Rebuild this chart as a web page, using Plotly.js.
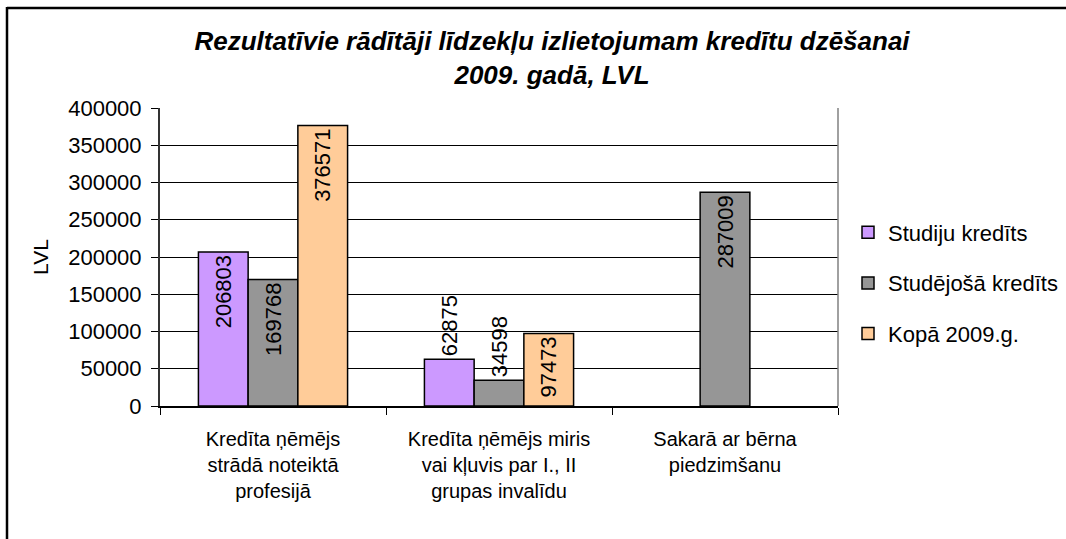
<!DOCTYPE html>
<html>
<head>
<meta charset="utf-8">
<script src="https://cdn.plot.ly/plotly-3.0.1.min.js"></script>
<style>
  html, body { margin: 0; padding: 0; background: #fff; }
  #chart { width: 1066px; height: 539px; }
</style>
</head>
<body>
<div id="chart"></div>
<script>
// ---- data ----
const categories = [
  "Kredīta ņēmējs<br>strādā noteiktā<br>profesijā",
  "Kredīta ņēmējs miris<br>vai kļuvis par I., II<br>grupas invalīdu",
  "Sakarā ar bērna<br>piedzimšanu"
];
const seriesNames = ["Studiju kredīts", "Studējošā kredīts", "Kopā 2009.g."];
const studiju = [206803, 62875, null];
const studejosa = [169768, 34598, 287009];
const kopa = [376571, 97473, null];
const yTicks = [0, 50000, 100000, 150000, 200000, 250000, 300000, 350000, 400000];

// ---- layout geometry (pixels) ----
const W = 1066, H = 539;
const plotL = 160, plotR = 838, plotT = 108, plotB = 406;
const pw = plotR - plotL, ph = plotB - plotT;
const px2x = p => (p - plotL) / pw;
const py2y = p => (plotB - p) / ph;

const FONT = "Liberation Sans, Arial, sans-serif";
const colors = ["#CC99FF", "#969696", "#FFCC99"];
const values = [studiju, studejosa, kopa];
const positions = [
  ["inside", "outside", "none"],
  ["inside", "outside", "inside"],
  ["inside", "inside", "none"]
];

const traces = values.map((vals, i) => ({
  type: "bar",
  name: seriesNames[i],
  x: categories,
  y: vals,
  text: vals.map(v => v == null ? "" : String(v)),
  textposition: positions[i],
  insidetextanchor: "end",
  textangle: -90,
  constraintext: "none",
  cliponaxis: false,
  textfont: { family: FONT, size: 22, color: "#000" },
  marker: { color: colors[i], line: { color: "#000", width: 1.5 } },
  legendgroup: "g" + i,
  hoverinfo: "none"
}));

const layout = {
  width: W, height: H,
  margin: { l: plotL, r: W - plotR, t: plotT, b: H - plotB, pad: 0, autoexpand: false },
  paper_bgcolor: "#fff",
  plot_bgcolor: "#fff",
  barmode: "group",
  bargap: 0.34,
  bargroupgap: 0,
  showlegend: true,
  title: {
    text: "Rezultatīvie rādītāji līdzekļu izlietojumam kredītu dzēšanai<br>2009. gadā, LVL",
    font: { family: FONT, size: 26, weight: "bold", style: "italic", color: "#000" },
    x: 552 / W, xref: "container", xanchor: "center",
    y: 1 - 50 / H, yref: "container", yanchor: "top"
  },
  xaxis: {
    type: "category",
    tickson: "boundaries",
    ticks: "outside", ticklen: 7, tickwidth: 1, tickcolor: "#000",
    ticklabelstandoff: 14,
    showline: true, linecolor: "#000", linewidth: 1.5,
    showgrid: false, zeroline: false,
    tickfont: { family: FONT, size: 20, color: "#000" },
    automargin: false
  },
  yaxis: {
    range: [0, 400000],
    tickvals: yTicks,
    ticktext: yTicks.map(String),
    ticks: "outside", ticklen: 7, tickwidth: 1, tickcolor: "#000",
    ticklabelstandoff: 5,
    showline: true, linecolor: "#333", linewidth: 2,
    showgrid: true, gridcolor: "#000", gridwidth: 1,
    zeroline: false,
    tickfont: { family: FONT, size: 22, color: "#000" },
    title: { text: "LVL", font: { family: FONT, size: 21, color: "#000" }, standoff: 14 },
    automargin: false
  },
  legend: {
    x: px2x(848), xanchor: "left",
    y: py2y(283), yanchor: "middle",
    font: { family: FONT, size: 22, color: "#000" },
    tracegroupgap: 19,
    bgcolor: "rgba(0,0,0,0)",
    itemclick: false, itemdoubleclick: false
  },
  shapes: [
    { type: "line", xref: "paper", yref: "paper", x0: 1, x1: 1, y0: 0, y1: 1,
      line: { color: "#808080", width: 1.5 } },
    { type: "line", xref: "paper", yref: "paper", x0: px2x(7), x1: px2x(7), y0: py2y(7), y1: py2y(H + 5),
      line: { color: "#000", width: 2.5 } },
    { type: "line", xref: "paper", yref: "paper", x0: px2x(7), x1: px2x(W + 5), y0: py2y(8), y1: py2y(8),
      line: { color: "#000", width: 2.5 } }
  ]
};

Plotly.newPlot("chart", traces, layout, { staticPlot: true, displayModeBar: false });
</script>
</body>
</html>
